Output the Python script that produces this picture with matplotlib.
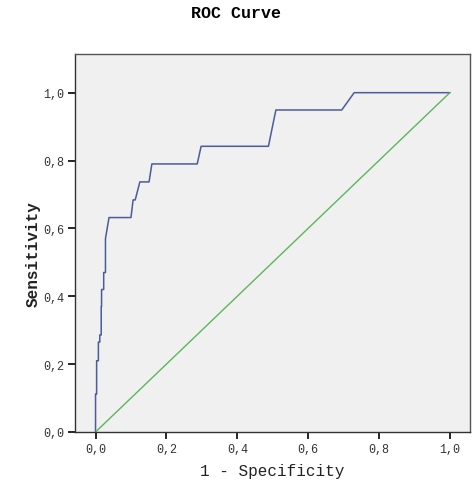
import matplotlib
matplotlib.use("Agg")
import matplotlib.pyplot as plt
from matplotlib.ticker import FuncFormatter

# ROC curve points (1 - specificity, sensitivity)
fpr = [0.000, 0.000, 0.003, 0.003, 0.008, 0.008, 0.012, 0.012, 0.016, 0.016, 0.017, 0.017,
       0.023, 0.023, 0.028, 0.028, 0.038, 0.100, 0.106, 0.112, 0.125, 0.151, 0.159,
       0.287, 0.298, 0.488, 0.509, 0.695, 0.730, 1.000]
tpr = [0.000, 0.112, 0.112, 0.210, 0.210, 0.265, 0.265, 0.286, 0.286, 0.370, 0.370, 0.420,
       0.420, 0.470, 0.470, 0.570, 0.632, 0.632, 0.684, 0.684, 0.737, 0.737, 0.790,
       0.790, 0.842, 0.842, 0.949, 0.949, 1.000, 1.000]
ref_x = [0.0, 1.0]
ref_y = [0.0, 1.0]
ticks = [0.0, 0.2, 0.4, 0.6, 0.8, 1.0]

mono = ["Liberation Mono", "DejaVu Sans Mono"]

fig = plt.figure(figsize=(4.72, 4.81), dpi=100)
ax = fig.add_axes([75/472, 1 - 433/481, 395/472, 378/481])
ax.set_facecolor("#f0f0f0")
ax.plot(fpr, tpr, color="#4b5b9c", lw=1.1)
ax.plot(ref_x, ref_y, color="#5cb65c", lw=1.0)
ax.set_xlim(-0.058, 1.057)
ax.set_ylim(0, 1.114)
ax.set_xticks(ticks)
ax.set_yticks(ticks)
fmt = FuncFormatter(lambda v, p: f"{v:.1f}".replace(".", ","))
ax.xaxis.set_major_formatter(fmt)
ax.yaxis.set_major_formatter(fmt)
ax.tick_params(direction="out", length=5, width=1.2, colors="black", labelsize=8.5, pad=3)
for lab in ax.get_xticklabels() + ax.get_yticklabels():
    lab.set_family(mono)
    lab.set_fontsize(8.5)
    lab.set_color("#333333")
for s in ax.spines.values():
    s.set_color("#555555")
    s.set_linewidth(1.0)
ax.spines["left"].set_color("#333333")
ax.spines["bottom"].set_color("#333333")
ax.set_xlabel("1 - Specificity", family=mono, fontsize=11.5, color="#222222", labelpad=6)
ax.set_ylabel("Sensitivity", family=mono, fontsize=11.5, fontweight="bold", color="#222222")
ax.yaxis.set_label_coords(-0.086, 0.474)
fig.text(0.5, 1 - 14/481, "ROC Curve", family=mono, fontsize=12, fontweight="bold",
         ha="center", va="center")
fig.savefig("out.png", dpi=100)
